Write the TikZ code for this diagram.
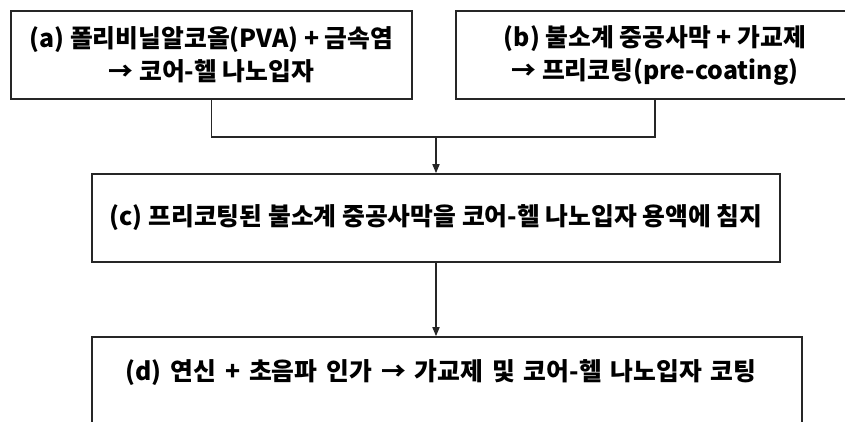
\documentclass[tikz,border=0pt]{standalone}
\usepackage{fontspec}
\setmainfont{Noto Sans CJK KR}
\usetikzlibrary{arrows.meta}
\tikzset{
  txt/.style={font=\fontsize{24.8}{33}\selectfont\bfseries, align=center},
  box/.style={draw=black!85, line width=1.6pt, rectangle, minimum height=88pt, inner sep=0pt, txt},
  conn/.style={draw=black!85, line width=1.6pt},
  arr/.style={conn, -{Triangle[length=9pt,width=7pt]}}
}
\begin{document}
\begin{tikzpicture}[x=1pt,y=-1pt]
\useasboundingbox (0,0) rectangle (845,421);
\clip (0,0) rectangle (845,421);
\node[box, minimum width=401pt] (a) at (211.5,55) {(a) 폴리비닐알코올(PVA) + 금속염\\→ 코어-헬 나노입자};
\node[box, minimum width=398pt] (b) at (655,55) {(b) 불소계 중공사막 + 가교제\\→ 프리코팅(pre-coating)};
\node[box, minimum width=688pt] (c) at (436,218) {(c) 프리코팅된 불소계 중공사막을 코어-헬 나노입자 용액에 침지};
\node[box, minimum width=710pt] (d) at (447,381) {};
\node[txt] (dt) at (441,373) {\spaceskip=0.36em plus 0.1em (d) 연신 + 초음파 인가 → 가교제 및 코어-헬 나노입자 코팅};
\coordinate (j) at (436,137);
\draw[conn] (a.south) |- (j);
\draw[conn] (b.south) |- (j);
\draw[arr] (j) -- (j |- c.north);
\draw[arr] (j |- c.south) -- (j |- d.north);
\end{tikzpicture}
\end{document}
